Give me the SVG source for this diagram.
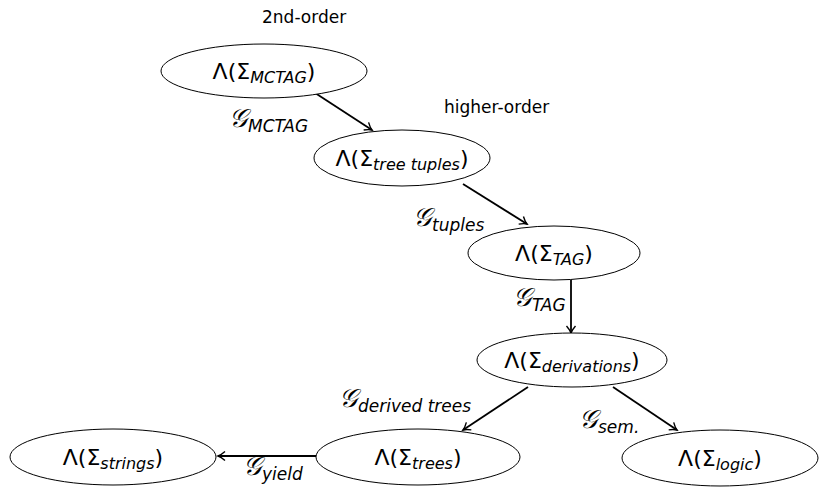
<svg xmlns="http://www.w3.org/2000/svg" width="824" height="489" viewBox="0 0 824 489">
<defs>
<style>
.node ellipse{fill:#fff;stroke:#000;stroke-width:1}
.lbl{font-family:"DejaVu Sans","Liberation Sans",sans-serif;font-size:22px;fill:#000}
.sub{font-style:italic;font-size:16px}
.note{font-family:"DejaVu Sans","Liberation Sans",sans-serif;font-size:17px;fill:#000}
.edge{stroke:#000;stroke-width:1.8;fill:none}
.g{font-family:"DejaVu Sans","Liberation Serif",serif;font-size:26px;font-style:italic;fill:#000}
.gs{font-family:"DejaVu Sans","Liberation Sans",sans-serif;font-style:italic;font-size:17px}
</style>
<marker id="arr" markerWidth="12" markerHeight="12" refX="10" refY="6" orient="auto" markerUnits="userSpaceOnUse">
<path d="M3,1.5 Q7,5 10,6 Q7,7 3,10.5" fill="none" stroke="#000" stroke-width="1.4"/>
</marker>
</defs>
<rect width="824" height="489" fill="#fff"/>
<g id="edges">
<line class="edge" x1="309" y1="89" x2="372" y2="130" marker-end="url(#arr)"/>
<line class="edge" x1="463" y1="184" x2="527" y2="224" marker-end="url(#arr)"/>
<line class="edge" x1="571" y1="280" x2="571" y2="333" marker-end="url(#arr)"/>
<line class="edge" x1="528" y1="387" x2="463" y2="430" marker-end="url(#arr)"/>
<line class="edge" x1="613" y1="387" x2="677" y2="430" marker-end="url(#arr)"/>
<line class="edge" x1="316" y1="456" x2="218" y2="456" marker-end="url(#arr)"/>
</g>
<g id="edge-labels">
<text class="g" x="229" y="127">𝒢<tspan class="gs" dy="5">MCTAG</tspan></text>
<text class="g" x="413" y="226">𝒢<tspan class="gs" dy="5">tuples</tspan></text>
<text class="g" x="513" y="306">𝒢<tspan class="gs" dy="5">TAG</tspan></text>
<text class="g" x="339" y="407">𝒢<tspan class="gs" dy="5">derived trees</tspan></text>
<text class="g" x="579" y="428">𝒢<tspan class="gs" dy="5">sem.</tspan></text>
<text class="g" x="243" y="475">𝒢<tspan class="gs" dy="5">yield</tspan></text>
</g>
<text class="note" x="262" y="23">2nd-order</text>
<text class="note" x="444" y="113">higher-order</text>
<g id="n1" class="node"><ellipse cx="264" cy="71" rx="103" ry="27"/><text class="lbl" x="264" y="79" text-anchor="middle">Λ(Σ<tspan class="sub" dy="4">MCTAG</tspan><tspan dy="-4">)</tspan></text></g>
<g id="n2" class="node"><ellipse cx="402" cy="158" rx="88" ry="28"/><text class="lbl" x="402" y="166" text-anchor="middle">Λ(Σ<tspan class="sub" dy="4">tree tuples</tspan><tspan dy="-4">)</tspan></text></g>
<g id="n3" class="node"><ellipse cx="554" cy="253" rx="86" ry="27"/><text class="lbl" x="554" y="261" text-anchor="middle">Λ(Σ<tspan class="sub" dy="4">TAG</tspan><tspan dy="-4">)</tspan></text></g>
<g id="n4" class="node"><ellipse cx="572" cy="360" rx="95" ry="27"/><text class="lbl" x="572" y="368" text-anchor="middle">Λ(Σ<tspan class="sub" dy="4">derivations</tspan><tspan dy="-4">)</tspan></text></g>
<g id="n5" class="node"><ellipse cx="418" cy="457" rx="102" ry="28"/><text class="lbl" x="418" y="465" text-anchor="middle">Λ(Σ<tspan class="sub" dy="4">trees</tspan><tspan dy="-4">)</tspan></text></g>
<g id="n6" class="node"><ellipse cx="113" cy="457" rx="103" ry="28"/><text class="lbl" x="113" y="465" text-anchor="middle">Λ(Σ<tspan class="sub" dy="4">strings</tspan><tspan dy="-4">)</tspan></text></g>
<g id="n7" class="node"><ellipse cx="720" cy="458" rx="98" ry="28"/><text class="lbl" x="720" y="466" text-anchor="middle">Λ(Σ<tspan class="sub" dy="4">logic</tspan><tspan dy="-4">)</tspan></text></g>
</svg>
